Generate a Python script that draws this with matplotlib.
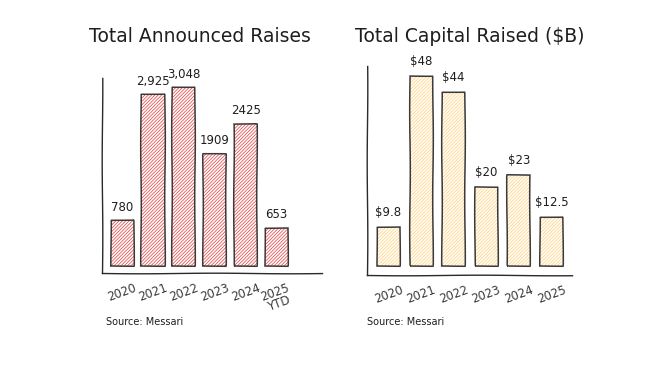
import matplotlib.pyplot as plt
from matplotlib.colors import to_rgba

years = ["2020", "2021", "2022", "2023", "2024", "2025"]
raises = [780, 2925, 3048, 1909, 2425, 653]
raise_labels = ["780", "2,925", "3,048", "1909", "2425", "653"]
capital = [9.8, 48, 44, 20, 23, 12.5]
capital_labels = ["$9.8", "$48", "$44", "$20", "$23", "$12.5"]
left_ticks = ["2020", "2021", "2022", "2023", "2024", "2025\nYTD"]

plt.rcParams['font.family'] = ['DejaVu Sans']
plt.rcParams['hatch.linewidth'] = 0.55

fig = plt.figure(figsize=(6.62, 3.73), dpi=100)
fig.patch.set_facecolor('white')


def sketch_panel(ax, vals, labels, ticks, hatch_color, width, ylim, xlim, off):
    bars = ax.bar(range(len(vals)), vals, width=width, facecolor='white',
                  edgecolor='#3a3a3a', linewidth=1.1, hatch='//////////')
    for b in bars:
        b._hatch_color = to_rgba(hatch_color)
        b.set_sketch_params(0.3, 120, 1)
    for i, (v, t) in enumerate(zip(vals, labels)):
        ax.text(i, v + off, t, ha='center', va='bottom', fontsize=8.5, color='#1e1e1e')
    ax.set_ylim(*ylim)
    ax.set_xlim(*xlim)
    ax.set_yticks([])
    ax.set_xticks(range(len(vals)))
    ax.set_xticklabels(ticks, rotation=20, fontsize=8.5, color='#3a3a3a',
                       ha='center', va='top', linespacing=0.9)
    ax.tick_params(axis='x', length=0, pad=6)
    for s in ['top', 'right']:
        ax.spines[s].set_visible(False)
    for s in ['left', 'bottom']:
        ax.spines[s].set_color('#2a2a2a')
        ax.spines[s].set_linewidth(1.0)
        ax.spines[s].set_sketch_params(0.3, 150, 1)
    ax.set_facecolor('none')


ax1 = fig.add_axes([0.1541, 0.2681, 0.3323, 0.5228])
sketch_panel(ax1, raises, raise_labels, left_ticks, '#e8484a', 0.75,
             (-119, 3201), (-0.65, 6.47), 110)

ax2 = fig.add_axes([0.5544, 0.2627, 0.3097, 0.5603])
sketch_panel(ax2, capital, capital_labels, years, '#ffd27a', 0.71,
             (-2.27, 50.5), (-0.66, 5.63), 2.0)

fig.text(200 / 662, 1 - 37 / 373, "Total Announced Raises", ha='center', va='center',
         fontsize=13.5, color='#1e1e1e')
fig.text(470 / 662, 1 - 37 / 373, "Total Capital Raised ($B)", ha='center', va='center',
         fontsize=13.5, color='#1e1e1e')
fig.text(106 / 662, 1 - 322 / 373, "Source: Messari", ha='left', va='center',
         fontsize=7, color='#1e1e1e')
fig.text(367 / 662, 1 - 322 / 373, "Source: Messari", ha='left', va='center',
         fontsize=7, color='#1e1e1e')

fig.savefig('out.png', dpi=100, facecolor='white')
